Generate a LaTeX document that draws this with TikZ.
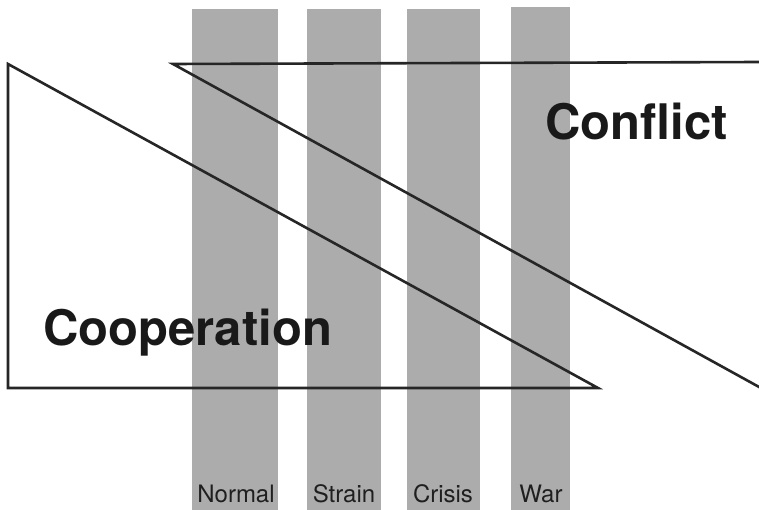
\documentclass[tikz,border=0pt]{standalone}
\usepackage{fontspec}
\setmainfont{TeX Gyre Heros}
\begin{document}
\begin{tikzpicture}[x=1pt,y=-1pt,
  bar/.style={fill=barfill,draw=none},
  edge/.style={draw=black!85,line width=2.6pt,line join=miter},
  bigword/.style={font=\fontsize{49}{55}\selectfont\bfseries,inner sep=0pt,anchor=base west,text=black!90},
  phase/.style={font=\fontsize{24}{26}\selectfont,inner sep=0pt,anchor=base,text=black!88}]
\definecolor{barfill}{RGB}{172,172,172}
\useasboundingbox (0,0) rectangle (759,510);
\fill[white] (0,0) rectangle (759,510);
% phase columns
\path[bar] (192,9) rectangle (278,510);
\path[bar] (307,9) rectangle (381,510);
\path[bar] (407,9) rectangle (480,510);
\path[bar] (511,7) rectangle (570,510);
% phase labels
\node[phase] (normal) at (236,502) {Normal};
\node[phase] (strain) at (344,502) {Strain};
\node[phase] (crisis) at (443,502) {Crisis};
\node[phase] (war) at (541,502) {War};
% cooperation wedge, shrinking towards war
\draw[edge] (8,64) -- (8,388) -- (598,388) -- cycle;
% conflict wedge, growing towards war
\draw[edge] (760,62) -- (173,64) -- (760,387.5);
% wedge titles
\node[bigword] (coop) at (43,345) {Cooperation};
\node[bigword] (conf) at (545,140) {Conflict};
\end{tikzpicture}
\end{document}
